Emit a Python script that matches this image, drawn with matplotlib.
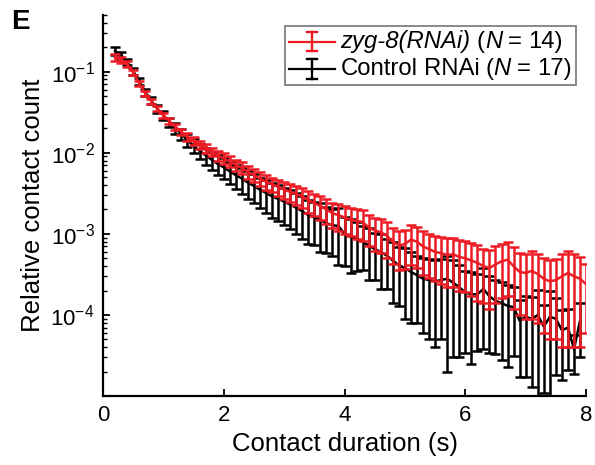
import matplotlib
matplotlib.use("Agg")
import matplotlib.pyplot as plt
from matplotlib.ticker import LogLocator, NullFormatter, FixedLocator
from matplotlib.offsetbox import AnchoredOffsetbox, HPacker, VPacker, TextArea, DrawingArea
from matplotlib.lines import Line2D

plt.rcParams['font.family'] = ['Liberation Sans', 'DejaVu Sans']
plt.rcParams['mathtext.fontset'] = 'custom'
plt.rcParams['mathtext.rm'] = 'Liberation Sans'
plt.rcParams['mathtext.it'] = 'Liberation Sans:italic'
plt.rcParams['mathtext.bf'] = 'Liberation Sans:bold'

# ---- data ----
x_red = [0.2, 0.3, 0.4, 0.5, 0.6, 0.7, 0.8, 0.9, 1.0, 1.1, 1.2, 1.3, 1.4, 1.5, 1.6, 1.7,
         1.8, 1.9, 2.0, 2.1, 2.2, 2.3, 2.4, 2.5, 2.6, 2.7, 2.8, 2.9, 3.0, 3.1, 3.2, 3.3,
         3.4, 3.5, 3.6, 3.7, 3.8, 3.9, 4.0, 4.1, 4.2, 4.3, 4.4, 4.5, 4.6, 4.7, 4.8, 4.9,
         5.0, 5.1, 5.2, 5.3, 5.4, 5.5, 5.6, 5.7, 5.8, 5.9, 6.0, 6.1, 6.2, 6.3, 6.4, 6.5,
         6.6, 6.7, 6.8, 6.9, 7.0, 7.1, 7.2, 7.3, 7.4, 7.5, 7.6, 7.7, 7.8, 7.9, 8.0]
y_red = [0.150, 0.140, 0.125, 0.098, 0.072, 0.054, 0.043, 0.035, 0.029, 0.0245, 0.021,
         0.018, 0.0157, 0.0140, 0.0126, 0.0114, 0.0103, 0.0093, 0.0085, 0.0078, 0.0071,
         0.0065, 0.0058, 0.0053, 0.0048, 0.0044, 0.0041, 0.0038, 0.0035, 0.0033, 0.0031,
         0.0029, 0.0026, 0.0024, 0.0022, 0.0020, 0.0018, 0.0017, 0.0016, 0.0015, 0.00145,
         0.0014, 0.0012, 0.0011, 0.00105, 0.00095, 0.00080, 0.00072, 0.00075, 0.00085,
         0.00080, 0.00070, 0.00065, 0.00060, 0.00058, 0.00055, 0.00056, 0.00052, 0.00050,
         0.00047, 0.00044, 0.00040, 0.00038, 0.00042, 0.00046, 0.00048, 0.00040, 0.00034,
         0.00033, 0.00035, 0.00032, 0.00028, 0.00026, 0.00027, 0.00030, 0.00033, 0.00030,
         0.00028, 0.00024]
err_red = [0.015, 0.013, 0.010, 0.008, 0.005, 0.0038, 0.003, 0.0025, 0.0023, 0.0020, 0.0019,
           0.0016, 0.0016, 0.0015, 0.0015, 0.0014, 0.0013, 0.0013, 0.0013, 0.0012, 0.0011,
           0.0011, 0.0010, 0.00095, 0.00091, 0.00088, 0.00082, 0.00084, 0.00084, 0.00086,
           0.00084, 0.00081, 0.00078, 0.00072, 0.00070, 0.00066, 0.00063, 0.00061, 0.00059,
           0.00057, 0.00058, 0.00059, 0.00050, 0.00048, 0.00047, 0.00044, 0.00038, 0.00036,
           0.00038, 0.00044, 0.00042, 0.00039, 0.00036, 0.00034, 0.00034, 0.00033, 0.00034,
           0.00032, 0.00031, 0.00030, 0.00029, 0.00026, 0.00026, 0.00028, 0.00030, 0.00031,
           0.00028, 0.00024, 0.00024, 0.00026, 0.00024, 0.00022, 0.00021, 0.00022, 0.00026,
           0.00029, 0.00026, 0.00024, 0.00018]

x_black = [0.2, 0.3, 0.4, 0.5, 0.6, 0.7, 0.8, 0.9, 1.0, 1.1, 1.2, 1.3, 1.4, 1.5, 1.6, 1.7,
           1.8, 1.9, 2.0, 2.1, 2.2, 2.3, 2.4, 2.5, 2.6, 2.7, 2.8, 2.9, 3.0, 3.1, 3.2, 3.3,
           3.4, 3.5, 3.6, 3.7, 3.8, 3.9, 4.0, 4.1, 4.2, 4.3, 4.4, 4.5, 4.6, 4.7, 4.8, 4.9,
           5.0, 5.1, 5.2, 5.3, 5.4, 5.5, 5.6, 5.7, 5.8, 5.9, 6.0, 6.1, 6.2, 6.3, 6.4, 6.5,
           6.6, 6.7, 6.8, 6.9, 7.0, 7.1, 7.2, 7.3, 7.4, 7.5, 7.6, 7.7, 7.8, 7.9]
y_black = [0.180, 0.160, 0.132, 0.102, 0.076, 0.056, 0.044, 0.035, 0.029, 0.024, 0.020,
           0.017, 0.0143, 0.0122, 0.0106, 0.0093, 0.0082, 0.0073, 0.0066, 0.0059, 0.0053,
           0.0048, 0.0043, 0.0039, 0.0035, 0.0032, 0.0029, 0.0027, 0.0025, 0.0023, 0.0021,
           0.0019, 0.0017, 0.0016, 0.0015, 0.00135, 0.00128, 0.00125, 0.00100, 0.00092,
           0.00088, 0.00080, 0.00072, 0.00065, 0.00060, 0.00054, 0.00047, 0.00041, 0.00038,
           0.00034, 0.00031, 0.00028, 0.00027, 0.00026, 0.00027, 0.00028, 0.00025, 0.00022,
           0.00019, 0.00018, 0.00018, 0.00021, 0.00017, 0.00015, 0.00014, 0.00013, 0.000125,
           0.000085, 0.000095, 0.000090, 0.000100, 0.000072, 0.000095, 0.000090, 0.000065,
           0.000070, 0.000038, 0.000085]
err_black = [0.020, 0.016, 0.013, 0.010, 0.0076, 0.0056, 0.0044, 0.0039, 0.0035, 0.0031,
             0.0030, 0.0027, 0.0026, 0.0024, 0.0023, 0.0022, 0.0021, 0.0020, 0.0019, 0.0018,
             0.00175, 0.00168, 0.00159, 0.00152, 0.00144, 0.00138, 0.00131, 0.00127, 0.00120,
             0.00115, 0.00109, 0.00103, 0.00095, 0.00088, 0.00090, 0.00077, 0.00074, 0.00084,
             0.00060, 0.00059, 0.00053, 0.00044, 0.00045, 0.00038, 0.00039, 0.00033, 0.00033,
             0.00028, 0.00029, 0.00026, 0.00023, 0.00022, 0.00022, 0.00022, 0.00022, 0.00026,
             0.00022, 0.00019, 0.000156, 0.000155, 0.000144, 0.000172, 0.000136, 0.000117,
             0.000112, 0.000107, 0.000094, 0.000068, 0.000078, 0.000077, 0.000105, 0.000061,
             0.0001, 0.000072, 0.000049, 0.000049, 0.000019, 0.000055]

# legend text pieces: (text, italic?)
legend_red = [("zyg-8(RNAi)", True), ("(", False), ("N", True), ("=", False), ("14)", False)]
legend_black = [("Control", False), ("RNAi", False), ("(", False), ("N", True), ("=", False), ("17)", False)]
x_ticks = [0, 2, 4, 6, 8]
y_ticks = [1e-4, 1e-3, 1e-2, 1e-1]
y_ticklabels = [r"10$^{-4}$", r"10$^{-3}$", r"10$^{-2}$", r"10$^{-1}$"]

RED = '#ED1C24'
LW = 1.8

fig = plt.figure(figsize=(5.95, 4.65), dpi=100)
ax = fig.add_axes([0.173, 0.148, 0.812, 0.82])

ax.errorbar(x_black, y_black, yerr=err_black, color='black', lw=LW,
            elinewidth=LW, capsize=3.8, capthick=LW, zorder=2)
ax.errorbar(x_red, y_red, yerr=err_red, color=RED, lw=LW,
            elinewidth=LW, capsize=3.8, capthick=LW, zorder=3)

ax.set_yscale('log')
ax.set_ylim(1e-5, 0.5)
ax.set_xlim(0, 8)

ax.set_xticks(x_ticks)
ax.set_xticklabels([str(t) for t in x_ticks])
ax.yaxis.set_major_locator(FixedLocator(y_ticks))
ax.set_yticklabels(y_ticklabels)
ax.yaxis.set_minor_locator(LogLocator(base=10, subs=[2, 3, 4, 5, 6, 7, 8, 9], numticks=20))
ax.yaxis.set_minor_formatter(NullFormatter())

for s in ['top', 'right']:
    ax.spines[s].set_visible(False)
for s in ['left', 'bottom']:
    ax.spines[s].set_linewidth(1.6)

ax.tick_params(axis='both', which='major', direction='in', length=5, width=1.3,
               labelsize=16, pad=6)
ax.tick_params(axis='y', which='minor', direction='in', length=3, width=1.0)

ax.set_xlabel("Contact duration (s)", fontsize=18.5, labelpad=5)
ax.set_ylabel("Relative contact count", fontsize=18.5, labelpad=4)

# ---- custom legend (mixed italic / upright text) ----
LFS = 17.2


def handle(color):
    da = DrawingArea(33, 14, 0, 0)
    da.add_artist(Line2D([0, 33], [7, 7], color=color, lw=1.6))
    da.add_artist(Line2D([16.5, 16.5], [0, 14], color=color, lw=1.7))
    da.add_artist(Line2D([13, 20], [0, 0], color=color, lw=1.7))
    da.add_artist(Line2D([13, 20], [14, 14], color=color, lw=1.7))
    return da


def words(pieces):
    sp = LFS * 0.26
    boxes = []
    i = 0
    while i < len(pieces):
        txt, it = pieces[i]
        ta = TextArea(txt, textprops=dict(fontsize=LFS, fontstyle='italic' if it else 'normal'))
        if txt == "(" and i + 1 < len(pieces):
            nt, nit = pieces[i + 1]
            tb = TextArea(nt, textprops=dict(fontsize=LFS, fontstyle='italic' if nit else 'normal'))
            ta = HPacker(children=[ta, tb], sep=0, pad=0, align='baseline')
            i += 1
        boxes.append(ta)
        i += 1
    return HPacker(children=boxes, sep=sp, pad=0, align='baseline')


rows = []
for color, pieces in [(RED, legend_red), ('black', legend_black)]:
    rows.append(HPacker(children=[handle(color), words(pieces)], sep=4, pad=0, align='center'))
vbox = VPacker(children=rows, sep=3, pad=0, align='left')
anch = AnchoredOffsetbox(loc='upper right', child=vbox, pad=0.3, borderpad=0,
                         frameon=True, bbox_to_anchor=(0.968, 0.944),
                         bbox_transform=fig.transFigure)
anch.patch.set_edgecolor('#808080')
anch.patch.set_linewidth(1.3)
anch.patch.set_boxstyle('square', pad=0)
ax.add_artist(anch)

fig.text(0.018, 0.953, "E", fontsize=20, fontweight='bold', va='center')

fig.savefig("out.png", dpi=100)
